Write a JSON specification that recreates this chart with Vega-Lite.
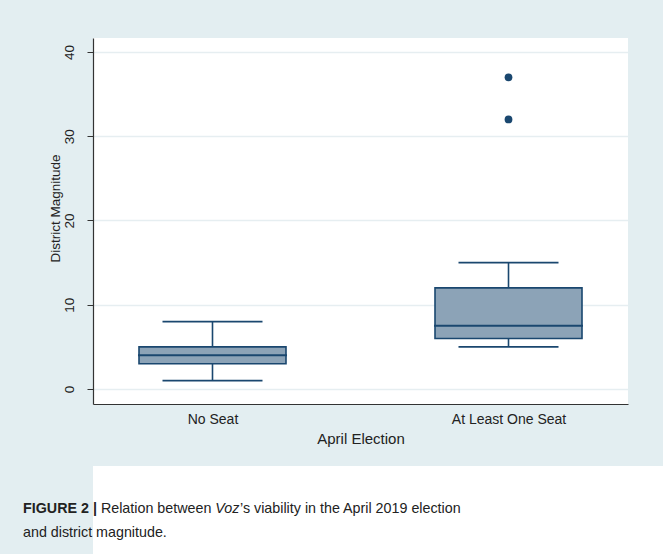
{
  "$schema": "https://vega.github.io/schema/vega-lite/v6.json",
  "background": "#e3eef1",
  "padding": {"left": 23, "top": 38, "right": 0, "bottom": 0},
  "config": {
    "font": "Liberation Sans",
    "view": {"stroke": null},
    "concat": {"spacing": 20}
  },
  "datasets": {
    "boxes": [
      {"election": "No Seat", "min": 1, "q1": 3, "median": 4, "q3": 5, "max": 8},
      {"election": "At Least One Seat", "min": 5, "q1": 6, "median": 7.5, "q3": 12, "max": 15}
    ],
    "outliers": [
      {"election": "At Least One Seat", "magnitude": 32},
      {"election": "At Least One Seat", "magnitude": 37}
    ],
    "caption": [
      {"piece": "FIGURE 2 |", "style": "bold", "line": 1},
      {"piece": "Relation between", "style": "plain1", "line": 1},
      {"piece": "Voz", "style": "italic", "line": 1},
      {"piece": "’s viability in the April 2019 election", "style": "plain2", "line": 1},
      {"piece": "and district magnitude.", "style": "plain3", "line": 2}
    ]
  },
  "vconcat": [
    {
      "width": 535,
      "height": 366,
      "view": {"fill": "white", "stroke": null},
      "encoding": {
        "x": {
          "field": "election",
          "type": "nominal",
          "sort": ["No Seat", "At Least One Seat"],
          "scale": {"type": "point", "padding": 0.4037},
          "axis": {
            "title": "April Election",
            "labelAngle": 0,
            "labelFontSize": 14,
            "labelColor": "#222",
            "labelPadding": 8,
            "ticks": false,
            "grid": false,
            "domainColor": "#333",
            "domainWidth": 1.2,
            "titleFontSize": 15,
            "titleFontWeight": "normal",
            "titleColor": "#222",
            "titlePadding": 5
          }
        }
      },
      "layer": [
        {
          "data": {"name": "boxes"},
          "mark": {"type": "rule", "color": "#1a476f", "strokeWidth": 1.6},
          "encoding": {
            "y": {
              "field": "min",
              "type": "quantitative",
              "title": "District Magnitude",
              "scale": {"domain": [-1.78, 41.66], "nice": false, "zero": false},
              "axis": {
                "values": [0, 10, 20, 30, 40],
                "labelAngle": -90,
                "labelAlign": "center",
                "labelBaseline": "alphabetic",
                "labelFontSize": 13.5,
                "labelColor": "#222",
                "labelPadding": 14,
                "tickSize": 6,
                "tickColor": "#333",
                "domainColor": "#333",
                "domainWidth": 1.2,
                "gridColor": "#e6eef1",
                "gridWidth": 1.5,
                "titleFontSize": 13.5,
                "titleFontWeight": "normal",
                "titleColor": "#222",
                "titleAngle": -90,
                "titleAlign": "center",
                "titleBaseline": "alphabetic",
                "titleX": -33.5,
                "titleY": 170
              }
            },
            "y2": {"field": "max"}
          }
        },
        {
          "data": {"name": "boxes"},
          "mark": {"type": "bar", "size": 147, "fill": "#8ca3b7", "stroke": "#1a476f", "strokeWidth": 1.6},
          "encoding": {
            "y": {"field": "q1", "type": "quantitative", "title": "District Magnitude"},
            "y2": {"field": "q3"}
          }
        },
        {
          "data": {"name": "boxes"},
          "mark": {"type": "tick", "size": 149, "thickness": 2, "color": "#1a476f", "opacity": 1},
          "encoding": {
            "y": {"field": "median", "type": "quantitative", "title": "District Magnitude"}
          }
        },
        {
          "data": {"name": "boxes"},
          "mark": {"type": "tick", "size": 100, "thickness": 1.6, "color": "#1a476f", "opacity": 1},
          "encoding": {
            "y": {"field": "min", "type": "quantitative", "title": "District Magnitude"}
          }
        },
        {
          "data": {"name": "boxes"},
          "mark": {"type": "tick", "size": 100, "thickness": 1.6, "color": "#1a476f", "opacity": 1},
          "encoding": {
            "y": {"field": "max", "type": "quantitative", "title": "District Magnitude"}
          }
        },
        {
          "data": {"name": "outliers"},
          "mark": {"type": "point", "filled": true, "size": 60, "color": "#1a476f", "opacity": 1},
          "encoding": {
            "y": {"field": "magnitude", "type": "quantitative", "title": "District Magnitude"}
          }
        }
      ]
    },
    {
      "width": 570,
      "height": 88,
      "view": {"fill": "white", "stroke": null},
      "data": {"name": "caption"},
      "encoding": {
        "x": {"datum": 0, "type": "quantitative", "scale": {"domain": [0, 1]}, "axis": null},
        "y": {"field": "line", "type": "quantitative", "scale": {"domain": [-0.958, 2.708], "reverse": true, "nice": false, "zero": false}, "axis": null},
        "text": {"field": "piece"}
      },
      "layer": [
        {
          "transform": [{"filter": "datum.style === 'bold'"}],
          "mark": {"type": "text", "align": "left", "baseline": "alphabetic", "fontSize": 14.3, "fontWeight": "bold", "color": "#222", "dx": -70}
        },
        {
          "transform": [{"filter": "datum.style === 'plain1'"}],
          "mark": {"type": "text", "align": "left", "baseline": "alphabetic", "fontSize": 14.3, "color": "#222", "dx": 7.9}
        },
        {
          "transform": [{"filter": "datum.style === 'italic'"}],
          "mark": {"type": "text", "align": "left", "baseline": "alphabetic", "fontSize": 14.3, "fontStyle": "italic", "color": "#222", "dx": 122.35}
        },
        {
          "transform": [{"filter": "datum.style === 'plain2'"}],
          "mark": {"type": "text", "align": "left", "baseline": "alphabetic", "fontSize": 14.3, "color": "#222", "dx": 146.99}
        },
        {
          "transform": [{"filter": "datum.style === 'plain3'"}],
          "mark": {"type": "text", "align": "left", "baseline": "alphabetic", "fontSize": 14.3, "color": "#222", "dx": -70}
        }
      ]
    }
  ]
}
